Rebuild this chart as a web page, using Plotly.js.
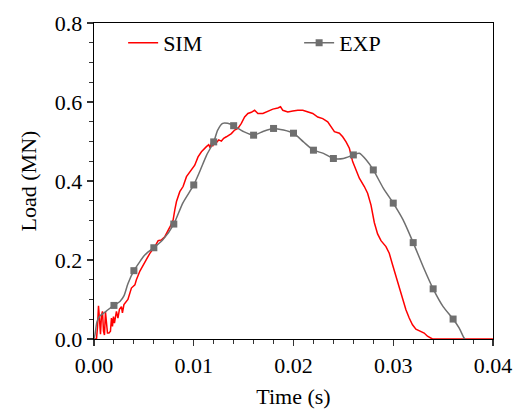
<!DOCTYPE html>
<html>
<head>
<meta charset="utf-8">
<script src="https://cdn.plot.ly/plotly-3.0.1.min.js"></script>
<style>html,body{margin:0;padding:0;background:#fff;}#chart{width:513px;height:412px;}</style>
</head>
<body>
<div id="chart"></div>
<script>
// SIM curve: time in ms, load in MN
const simTimeMs = [0,0.25,0.35,0.45,0.55,0.65,0.75,0.85,0.95,1.05,1.15,1.25,1.35,1.5,1.65,1.75,1.85,1.95,2.05,2.25,2.4,2.55,2.75,2.85,3.0,3.4,3.75,4.1,4.25,4.6,5.1,5.6,6.1,6.43,6.77,7.1,7.6,7.93,8.1,8.27,8.6,8.93,9.27,9.6,10.1,10.43,10.77,11.27,11.5,11.65,11.77,11.9,12.05,12.27,12.5,12.77,13.0,13.27,13.5,13.77,14.1,14.43,14.77,15.1,15.43,15.77,16.1,16.43,16.93,17.43,17.93,18.43,18.7,18.93,19.43,19.93,20.43,20.93,21.43,21.93,22.43,22.93,23.43,23.77,24.1,24.6,24.93,25.27,25.6,25.93,26.27,26.6,27.1,27.43,27.77,27.93,28.1,28.43,28.77,29.27,29.6,29.93,30.27,30.6,30.93,31.27,31.6,31.93,32.27,32.77,33.1,33.43,33.77,33.93,40];
const simLoad = [0,0,0.03,0.084,0.05,0.012,0.06,0.07,0.02,0.01,0.068,0.03,0.015,0.015,0.02,0.053,0.032,0.057,0.04,0.07,0.053,0.075,0.082,0.066,0.087,0.1,0.129,0.137,0.15,0.172,0.196,0.217,0.234,0.249,0.251,0.259,0.283,0.301,0.327,0.348,0.373,0.386,0.411,0.423,0.44,0.461,0.474,0.487,0.492,0.484,0.497,0.488,0.499,0.497,0.504,0.501,0.508,0.512,0.516,0.52,0.529,0.533,0.546,0.562,0.571,0.574,0.579,0.571,0.571,0.577,0.582,0.585,0.588,0.579,0.575,0.577,0.579,0.579,0.574,0.571,0.562,0.558,0.55,0.537,0.525,0.521,0.512,0.499,0.483,0.449,0.428,0.407,0.386,0.369,0.339,0.314,0.295,0.266,0.249,0.234,0.217,0.188,0.158,0.129,0.099,0.074,0.053,0.036,0.025,0.019,0.015,0.007,0.0025,0,0];

// EXP curve: time in ms, load in MN
const expTimeMs = [0,0.1,0.3,0.6,1.0,1.4,2.0,2.6,3.0,3.4,4.0,4.6,5.0,5.4,6.0,6.9,8.0,8.9,10.0,10.6,11.3,12.0,12.4,12.9,13.4,14.0,15.0,16.0,17.0,18.0,19.0,20.0,21.0,22.0,23.0,24.0,25.0,26.0,26.6,27.3,28.0,29.0,30.0,31.0,32.0,33.0,34.0,35.0,36.0,36.6,37.1,37.2];
const expLoad = [0,0.011,0.044,0.059,0.066,0.074,0.085,0.095,0.109,0.14,0.173,0.196,0.21,0.22,0.231,0.251,0.291,0.344,0.39,0.424,0.466,0.499,0.529,0.546,0.546,0.54,0.525,0.516,0.526,0.533,0.529,0.521,0.499,0.478,0.47,0.457,0.457,0.466,0.47,0.453,0.428,0.382,0.344,0.301,0.244,0.183,0.127,0.082,0.0505,0.028,0.0025,0];

// EXP measured points (markers)
const expMarkTimeMs = [2,4,6,8,10,12,14,16,18,20,22,24,26,28,30,32,34,36];
const expMarkLoad = [0.085,0.173,0.231,0.291,0.39,0.499,0.54,0.516,0.533,0.521,0.478,0.457,0.466,0.428,0.344,0.244,0.127,0.0505];

const toSec = a => a.map(v => v / 1000);
const GRAY = '#6f6f6f';
const FONT = '"Liberation Serif", "Times New Roman", serif';

const traces = [
  {x: toSec(simTimeMs), y: simLoad, mode: 'lines', name: 'SIM',
   line: {color: '#ff0000', width: 1.5}},
  {x: toSec(expTimeMs), y: expLoad, mode: 'lines', name: 'EXP', showlegend: false, legendgroup: 'exp',
   line: {color: GRAY, width: 1.5, shape: 'spline', smoothing: 0.6}},
  {x: toSec(expMarkTimeMs), y: expMarkLoad, mode: 'markers', name: 'EXP', showlegend: false, legendgroup: 'exp',
   marker: {symbol: 'square', size: 7, color: GRAY}},
  {x: [null], y: [null], mode: 'lines+markers', name: 'EXP', legendgroup: 'exp',
   line: {color: GRAY, width: 1.5}, marker: {symbol: 'square', size: 7, color: GRAY}}
];

const layout = {
  width: 513, height: 412,
  margin: {l: 94, r: 20, t: 23, b: 73},
  paper_bgcolor: '#fff', plot_bgcolor: '#fff',
  font: {family: FONT, size: 22, color: '#000'},
  showlegend: true,
  legend: {orientation: 'h', x: 0.073, y: 1.003, xanchor: 'left', yanchor: 'top',
           font: {family: FONT, size: 22, color: '#000'}, bgcolor: 'rgba(0,0,0,0)',
           entrywidth: 131, entrywidthmode: 'pixels', traceorder: 'normal'},
  xaxis: {range: [0, 0.04], dtick: 0.01, tick0: 0, tickformat: '.2f',
          showgrid: false, zeroline: false, showline: true, mirror: true,
          linecolor: '#000', linewidth: 1.3, ticks: 'outside', ticklen: 6, tickwidth: 1.3, tickcolor: '#333',
          minor: {dtick: 0.002, ticks: 'outside', ticklen: 3.5, tickwidth: 1, tickcolor: '#333', showgrid: false},
          tickfont: {family: FONT, size: 22},
          title: {text: 'Time (s)', font: {family: FONT, size: 22}, standoff: 12}},
  yaxis: {range: [0, 0.8], dtick: 0.2, tick0: 0, tickformat: '.1f',
          showgrid: false, zeroline: false, showline: true, mirror: true,
          linecolor: '#000', linewidth: 1.3, ticks: 'outside', ticklen: 6, tickwidth: 1.3, tickcolor: '#333',
          minor: {dtick: 0.05, ticks: 'outside', ticklen: 3.5, tickwidth: 1, tickcolor: '#333', showgrid: false},
          tickfont: {family: FONT, size: 22},
          title: {text: 'Load (MN)', font: {family: FONT, size: 22}, standoff: 12}}
};

Plotly.newPlot('chart', traces, layout, {displayModeBar: false, staticPlot: true});
</script>
</body>
</html>
